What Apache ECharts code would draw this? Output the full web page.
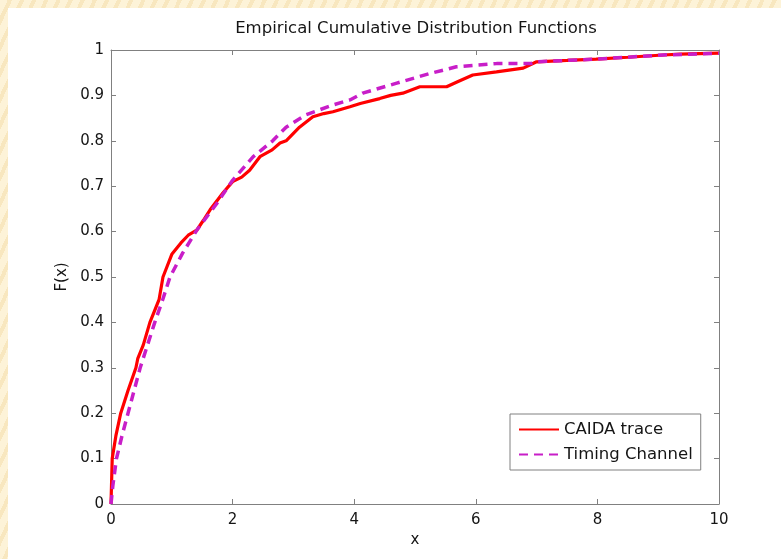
<!DOCTYPE html>
<html>
<head>
<meta charset="utf-8">
<script src="https://cdn.jsdelivr.net/npm/echarts@6/dist/echarts.min.js"></script>
<style>
  html, body {
    margin: 0;
    padding: 0;
    width: 781px;
    height: 559px;
    overflow: hidden;
    background: repeating-linear-gradient(115deg, #fdf3d8 0px, #fdf3d8 7px, #f8e7bf 7px, #f8e7bf 11px);
  }
  #chart {
    position: absolute;
    left: 8px;
    top: 8px;
    width: 773px;
    height: 551px;
    background: #ffffff;
  }
</style>
</head>
<body>
<div id="chart"></div>
<script>
// CAIDA trace (red, solid)
const caidaX = [0, 0.01, 0.02, 0.08, 0.16, 0.28, 0.41, 0.44, 0.53, 0.64, 0.79, 0.855, 1.0, 1.15, 1.27, 1.41, 1.52, 1.63, 1.84, 2.0, 2.15, 2.28, 2.45, 2.65, 2.78, 2.88, 3.1, 3.32, 3.5, 3.65, 3.93, 4.1, 4.42, 4.6, 4.8, 5.08, 5.52, 5.7, 5.95, 6.34, 6.78, 7.0, 7.5, 7.98, 8.5, 9.08, 9.36, 10];
const caidaY = [0, 0.05, 0.10, 0.15, 0.20, 0.25, 0.30, 0.32, 0.35, 0.40, 0.45, 0.50, 0.55, 0.575, 0.592, 0.603, 0.625, 0.648, 0.685, 0.71, 0.72, 0.735, 0.765, 0.78, 0.795, 0.80, 0.83, 0.853, 0.86, 0.864, 0.875, 0.882, 0.893, 0.90, 0.905, 0.919, 0.919, 0.93, 0.945, 0.952, 0.96, 0.974, 0.977, 0.98, 0.984, 0.989, 0.991, 0.993];

// Timing Channel (magenta, dashed)
const timingX = [0, 0.03, 0.09, 0.18, 0.28, 0.38, 0.48, 0.60, 0.72, 0.85, 0.97, 1.18, 1.41, 1.74, 2.0, 2.34, 2.66, 2.88, 3.2, 3.65, 3.93, 4.14, 4.7, 5.24, 5.68, 6.34, 6.9, 7.0, 7.98, 9.08, 10];
const timingY = [0, 0.04, 0.10, 0.15, 0.20, 0.25, 0.30, 0.35, 0.40, 0.45, 0.50, 0.553, 0.603, 0.662, 0.713, 0.765, 0.80, 0.83, 0.857, 0.879, 0.89, 0.905, 0.927, 0.948, 0.963, 0.97, 0.97, 0.974, 0.98, 0.989, 0.993];

const seriesNames = ["CAIDA trace", "Timing Channel"];
const titleText = "Empirical Cumulative Distribution Functions";

const FONT = "'DejaVu Sans', Verdana, sans-serif";
const AXIS_COLOR = "#808080";
const TEXT_COLOR = "#151515";

const chart = echarts.init(document.getElementById("chart"), null, { renderer: "canvas" });

function zip(xs, ys) {
  return xs.map((x, i) => [x, ys[i]]);
}

// box axes on top and right: ticks only, no labels
const mirrorAxis = {
  axisLine: { show: true, onZero: false, lineStyle: { color: AXIS_COLOR, width: 1 } },
  axisTick: { show: true, inside: true, length: 5, lineStyle: { color: AXIS_COLOR } },
  axisLabel: { show: false },
  splitLine: { show: false },
};

chart.setOption({
  animation: false,
  backgroundColor: "#ffffff",
  graphic: [
    {
      type: "text",
      x: 408,
      y: 12,
      style: {
        text: titleText,
        align: "center",
        verticalAlign: "top",
        fill: TEXT_COLOR,
        font: "16.5px " + FONT,
      },
    },
  ],
  grid: { left: 103, top: 42, right: 62, bottom: 55, containLabel: false },
  legend: {
    orient: "vertical",
    left: 502,
    top: 406,
    backgroundColor: "#ffffff",
    borderColor: AXIS_COLOR,
    borderWidth: 1,
    borderRadius: 0,
    padding: [7, 8, 7, 8],
    itemGap: 8,
    itemWidth: 40,
    itemHeight: 16,
    itemStyle: { opacity: 0, color: "rgba(0,0,0,0)", borderWidth: 0 },
    textStyle: { fontFamily: FONT, fontSize: 16.5, color: TEXT_COLOR },
    data: seriesNames,
  },
  xAxis: [
    {
      type: "value",
      min: 0,
      max: 10,
      interval: 2,
      position: "bottom",
      name: "x",
      nameLocation: "middle",
      nameGap: 28,
      nameTextStyle: { fontFamily: FONT, fontSize: 15, color: TEXT_COLOR },
      axisLine: { show: true, onZero: false, lineStyle: { color: AXIS_COLOR, width: 1 } },
      axisTick: { show: true, inside: true, length: 5, lineStyle: { color: AXIS_COLOR } },
      axisLabel: { fontFamily: FONT, fontSize: 15, color: TEXT_COLOR, margin: 9 },
      splitLine: { show: false },
    },
    Object.assign({ type: "value", min: 0, max: 10, interval: 2, position: "top" }, mirrorAxis),
  ],
  yAxis: [
    {
      type: "value",
      min: 0,
      max: 1,
      interval: 0.1,
      position: "left",
      name: "F(x)",
      nameLocation: "middle",
      nameGap: 41,
      nameTextStyle: { fontFamily: FONT, fontSize: 15, color: TEXT_COLOR },
      axisLine: { show: true, onZero: false, lineStyle: { color: AXIS_COLOR, width: 1 } },
      axisTick: { show: true, inside: true, length: 5, lineStyle: { color: AXIS_COLOR } },
      axisLabel: {
        fontFamily: FONT,
        fontSize: 15,
        color: TEXT_COLOR,
        margin: 7,
        formatter: (v) => (Math.round(v * 10) / 10).toString(),
      },
      splitLine: { show: false },
    },
    Object.assign({ type: "value", min: 0, max: 1, interval: 0.1, position: "right" }, mirrorAxis),
  ],
  series: [
    {
      name: seriesNames[0],
      type: "line",
      symbol: "none",
      z: 3,
      lineStyle: { color: "#ff0000", width: 3.2 },
      itemStyle: { color: "#ff0000" },
      data: zip(caidaX, caidaY),
    },
    {
      name: seriesNames[1],
      type: "line",
      symbol: "none",
      z: 4,
      lineStyle: { color: "#c81ec8", width: 3.5, type: [9, 6] },
      itemStyle: { color: "#c81ec8" },
      data: zip(timingX, timingY),
    },
  ],
});
</script>
</body>
</html>
